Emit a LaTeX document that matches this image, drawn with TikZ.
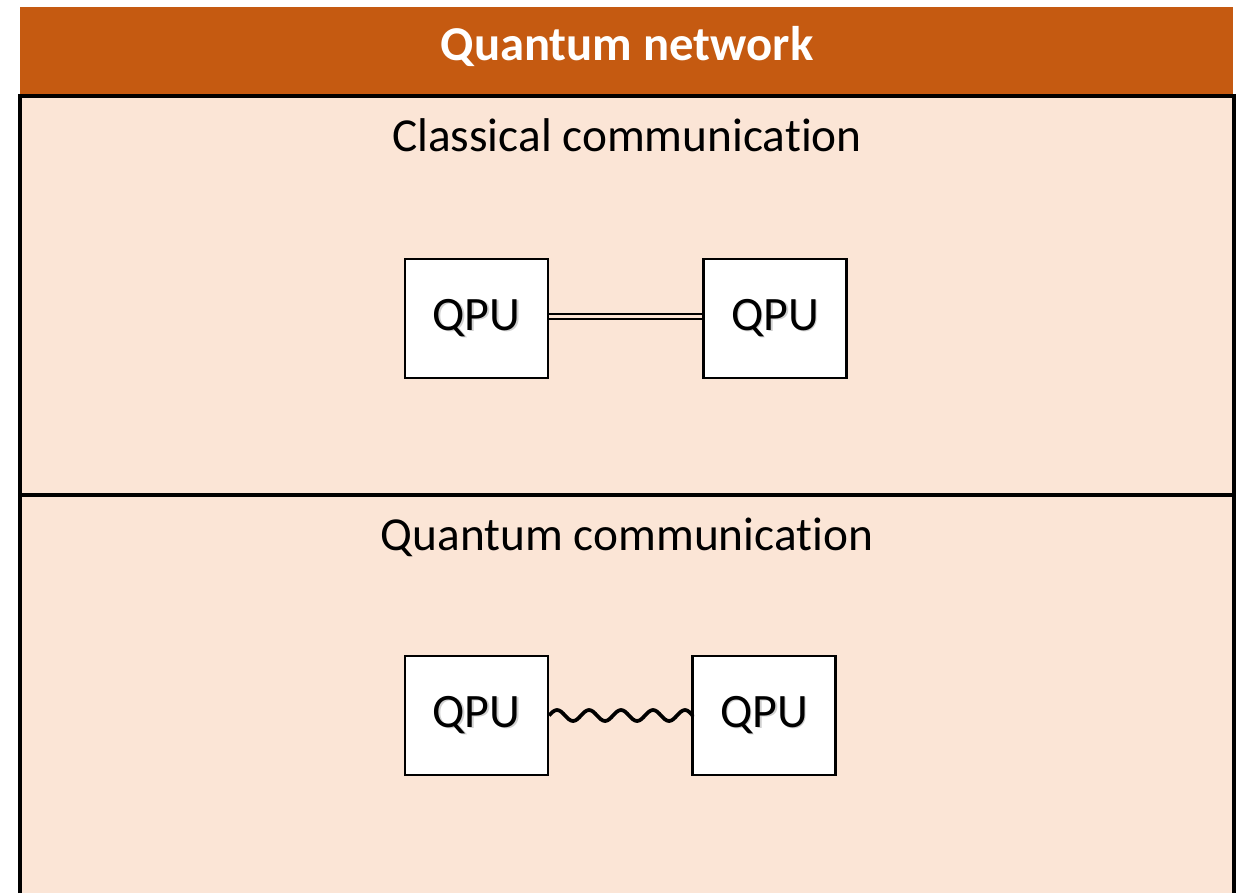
\documentclass[tikz,border=0pt]{standalone}
\usepackage{fontspec}
\setmainfont{Carlito}[Ligatures=NoCommon]

\definecolor{headerorange}{HTML}{C55A11}
\definecolor{panefill}{HTML}{FBE5D6}

% text with a soft drop shadow, set a little low in its box
\newcommand{\shadedlabel}[1]{\raisebox{-2.2pt}{%
  \makebox[0pt][l]{\hspace{1.3pt}\raisebox{-1.3pt}{\textcolor{black!18}{#1}}}#1}}

\tikzset{
  headerbar/.style={fill=headerorange, draw=none},
  pane/.style={fill=panefill, draw=none},
  paneborder/.style={draw=black, line width=2.4pt},
  qpubox/.style={draw=black, fill=white, line width=1.8pt,
    minimum width=107pt, minimum height=89pt, inner sep=0pt,
    font=\fontsize{36}{42}\selectfont},
  panetitle/.style={font=\fontsize{35.5}{42}\selectfont, inner sep=0pt},
  classical/.style={double=panefill, double distance=2.4pt, line width=1.1pt},
  quantumlink/.style={line width=2.8pt, line join=round},
}

\begin{document}
\begin{tikzpicture}[x=0.75pt, y=-0.75pt]
\useasboundingbox (0,0) rectangle (1242,893);

% header bar
\fill[headerbar] (20,7) rectangle (1233,95);
\node[text=white, font=\bfseries\fontsize{36.5}{42}\selectfont, inner sep=0pt]
  (title) at (627,46) {Quantum network};

% upper pane: classical communication
\fill[pane] (20,96) rectangle (1234,495);
\draw[paneborder] (20,96) rectangle (1234,495);
\node[panetitle] (classical) at (627,135) {Classical communication};

\node[qpubox] (qa) at (476.5,318.5) {\shadedlabel{QPU}};
\node[qpubox] (qb) at (775,318.5) {\shadedlabel{QPU}};
\draw[classical] ([yshift=1.5pt]qa.east) -- ([yshift=1.5pt]qb.west);

% lower pane: quantum communication
\fill[pane] (20,496) rectangle (1234,893);
\draw[paneborder] (20,893) -- (20,495) -- (1234,495) -- (1234,893);
\node[panetitle] (quantum) at (627,537) {Quantum communication};

\node[qpubox] (qc) at (476.5,715.5) {\shadedlabel{QPU}};
\node[qpubox] (qd) at (764,715.5) {\shadedlabel{QPU}};
% wavy quantum channel: four and a half periods of a sine
\draw[quantumlink] (qc.east)
  \foreach \k in {1,...,4}{ sin ++(8,-5.5) cos ++(8,5.5) sin ++(8,5.5) cos ++(8,-5.5) }
  sin ++(8,-5.5) cos ++(7.5,5.5) -- (qd.west);
\end{tikzpicture}
\end{document}
